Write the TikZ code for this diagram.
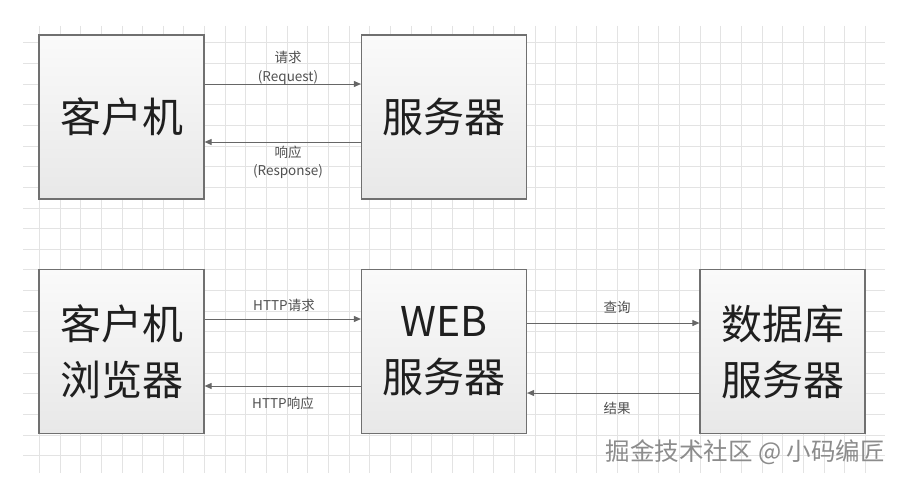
\documentclass[tikz,border=0pt]{standalone}
\usepackage{fontspec}
\newfontfamily\cjk{Noto Sans CJK SC}
\usetikzlibrary{arrows.meta}
\definecolor{gridc}{HTML}{E3E3E3}
\definecolor{boxline}{HTML}{707070}
\definecolor{arrc}{HTML}{666666}
\definecolor{lblc}{HTML}{505050}
\definecolor{boxtop}{HTML}{FAFAFA}
\definecolor{boxbot}{HTML}{E8E8E8}
\tikzset{
  bigbox/.style={draw=boxline, line width=1.2pt, top color=boxtop, bottom color=boxbot,
    minimum width=165pt, minimum height=164pt, inner sep=0pt, align=center,
    font=\cjk\fontsize{41}{56}\selectfont, text=black!88},
  arr/.style={draw=arrc, line width=0.9pt, -{Triangle[length=7pt,width=6pt]}},
  lbl/.style={font=\cjk\fontsize{13.5}{15}\selectfont, text=lblc, inner sep=0pt},
  wm/.style={font=\cjk\fontsize{24.5}{28}\selectfont, text=black!45, inner sep=0pt}
}
\begin{document}
\begin{tikzpicture}[x=1pt,y=-1pt]
\useasboundingbox (0,0) rectangle (904,481);
\fill[white] (0,0) rectangle (904,481);
% grid
\foreach \i in {0,...,40}{
  \draw[gridc, line width=0.8pt] ({39.3+\i*20.65},26) -- ({39.3+\i*20.65},473);
}
\foreach \j in {0,...,20}{
  \draw[gridc, line width=0.8pt] (23,{42.7+\j*20.65}) -- (885,{42.7+\j*20.65});
}
% boxes
\node[bigbox] (c1) at (121.5,117) {客户机};
\node[bigbox] (s1) at (444,117) {服务器};
\node[bigbox] (c2) at (121.5,351.5) {客户机\\浏览器};
\node[bigbox] (w2) at (444,351.5) {WEB\\服务器};
\node[bigbox] (d2) at (782.5,351.5) {数据库\\服务器};
% arrows top
\draw[arr] ([yshift=33pt]c1.east) -- ([yshift=33pt]s1.west);
\draw[arr] ([yshift=-25pt]s1.west) -- ([yshift=-25pt]c1.east);
% arrows bottom
\draw[arr] ([yshift=32.5pt]c2.east) -- ([yshift=32.5pt]w2.west);
\draw[arr] ([yshift=-34.5pt]w2.west) -- ([yshift=-34.5pt]c2.east);
\draw[arr] ([yshift=28.5pt]w2.east) -- ([yshift=28.5pt]d2.west);
\draw[arr] ([yshift=-41.5pt]d2.west) -- ([yshift=-41.5pt]w2.east);
% labels
\node[lbl] (l1) at (288,57) {请求};
\node[lbl] (l2) at (288,78) {(Request)};
\node[lbl] (l3) at (288,152) {响应};
\node[lbl] (l4) at (288,172) {(Response)};
\node[lbl] (l5) at (284,305) {HTTP请求};
\node[lbl] (l6) at (283,403) {HTTP响应};
\node[lbl] (l7) at (617,307) {查询};
\node[lbl] (l8) at (617,408) {结果};
% watermark
\node[wm, anchor=east] (wmk) at (885,452) {掘金技术社区 @ 小码编匠};
\end{tikzpicture}
\end{document}
